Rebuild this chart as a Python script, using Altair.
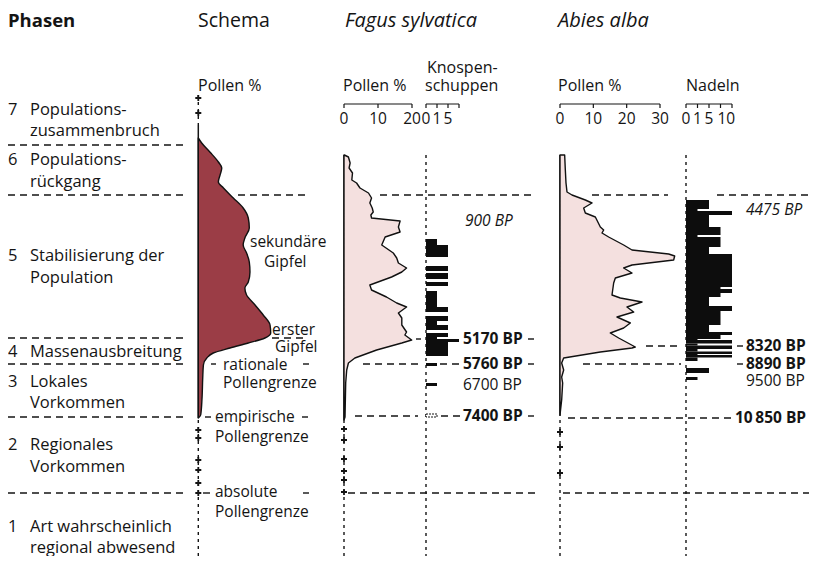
import altair as alt
import pandas as pd

# ---------------------------------------------------------------- values
# vertical position = relative depth in the profile (top = young, bottom = old)
PHASE_NUMBERS = ["7", "6", "5", "4", "3", "2", "1"]
PHASE_LINES = [["Populations-", "zusammenbruch"], ["Populations-", "rückgang"],
               ["Stabilisierung der", "Population"], ["Massenausbreitung"],
               ["Lokales", "Vorkommen"], ["Regionales", "Vorkommen"],
               ["Art wahrscheinlich", "regional abwesend"]]
PHASE_BOUNDARIES = [145, 195, 338, 364, 417, 493]

SCHEMA_DEPTH = [138, 143, 152, 162, 168, 175, 182, 188, 198, 208, 218, 228, 238, 245,
                253, 262, 272, 282, 288, 295, 305, 315, 325, 333, 338, 343, 348, 353,
                358, 365, 378, 398, 415, 418]
SCHEMA_POLLEN = [0, 1.0, 3.4, 5.9, 6.9, 6.4, 5.9, 7.4, 10.3, 13.2, 14.7, 15.0, 13.7, 13.2,
                 14.2, 15.0, 15.2, 14.7, 13.7, 14.2, 16.7, 19.1, 21.1, 21.3, 19.6, 14.7, 9.3, 4.4,
                 2.5, 1.5, 1.3, 1.1, 0.7, 0]
SCHEMA_PLUS_DEPTH = [98, 113, 430, 438, 460, 470, 483, 493]
SCHEMA_NOTES = ["sekundäre", "Gipfel", "erster", "Gipfel", "rationale", "Pollengrenze",
                "empirische", "Pollengrenze", "absolute", "Pollengrenze"]

FAGUS_DEPTH = [155, 157, 163, 168, 173, 180, 183, 188, 193, 198, 203, 208, 212, 215, 218,
               221, 227, 232, 237, 245, 253, 258, 263, 268, 272, 277, 285, 290, 297, 303,
               307, 313, 318, 325, 332, 335, 340, 343, 350, 358, 363, 370, 383, 417, 420]
FAGUS_POLLEN = [0.1, 1.3, 1.8, 1.5, 2.5, 2.3, 3.7, 4.7, 7.2, 8.1, 7.6, 8.3, 8.6, 7.9, 8.1,
                16.5, 16.0, 16.5, 12.1, 11.1, 14.5, 15.5, 16.0, 18.4, 17.0, 14.0, 7.6, 8.1, 12.5, 15.5,
                18.4, 16.0, 17.0, 17.0, 18.4, 17.9, 19.9, 17.0, 9.6, 3.2, 1.3, 0.8, 0.5, 0.3, 0]
FAGUS_PLUS_DEPTH = [429, 440, 459, 471, 480, 492]
KNOSPEN_TOP = [239, 245, 266, 273, 282, 291, 307, 316, 321, 325, 333, 337, 339, 342, 363, 383]
KNOSPEN_BOTTOM = [245, 257, 271, 279, 286, 307, 312, 321, 325, 330, 337, 339, 342, 356, 366, 386]
KNOSPEN_COUNT = [1, 5, 5, 5, 5, 1, 5, 5, 1, 5, 5, 1, 10, 5, 1, 1]
KNOSPEN_UNCERTAIN = (414, 417, 1)
FAGUS_BOUNDARIES = [195, 339, 364, 416, 493]
FAGUS_DATES = ["900 BP", "5170 BP", "5760 BP", "6700 BP", "7400 BP"]
FAGUS_DATE_DEPTH = [221, 339, 364, 385, 416]
FAGUS_DATE_KIND = ["italic", "bold", "bold", "normal", "bold"]

ABIES_DEPTH = [155, 170, 183, 192, 195, 200, 203, 208, 213, 217, 227, 230, 233, 237, 245,
               250, 254, 256, 260, 265, 268, 273, 278, 283, 295, 298, 302, 307, 312, 317,
               323, 328, 333, 338, 347, 348, 352, 358, 363, 370, 377, 383, 400, 415]
ABIES_POLLEN = [1.4, 1.6, 1.8, 2.1, 3.6, 7.6, 9.6, 7.1, 7.6, 10.6, 12.1, 13.1, 12.6, 14.6, 19.1,
                21.6, 32.6, 34.4, 34.1, 21.6, 19.1, 21.6, 16.6, 16.1, 15.6, 18.1, 24.6, 20.1, 22.1, 17.1,
                21.1, 19.1, 15.1, 17.6, 22.6, 21.6, 12.1, 1.1, 0.5, 1.1, 0.5, 0.8, 0.5, 0]
ABIES_PLUS_DEPTH = [432, 447, 473]
NADELN_TOP = [200, 209, 211, 215, 227, 235, 237, 247, 254, 287, 289, 293, 297, 306, 311, 315,
              325, 332, 335, 339, 340, 343.5, 345.5, 349, 351.5, 354, 355, 357.5, 368, 377]
NADELN_BOTTOM = [209, 211, 215, 227, 235, 237, 247, 254, 287, 289, 293, 297, 306, 311, 315, 325,
                 332, 335, 339, 340, 343.5, 345.5, 349, 351.5, 354, 355, 357.5, 361, 373, 380]
NADELN_COUNT = [5, 1, 15, 5, 10, 1, 10, 5, 15, 10, 15, 10, 5, 15, 10, 10,
                5, 15, 10, 1, 15, 1, 15, 1, 15, 1, 15, 1, 5, 1]
ABIES_BOUNDARIES = [195, 346, 364, 418, 493]
ABIES_DATES = ["4475 BP", "8320 BP", "8890 BP", "9500 BP", "10\u2009850 BP"]
ABIES_DATE_DEPTH = [210, 346, 364, 381, 418]
ABIES_DATE_KIND = ["italic", "bold", "bold", "normal", "bold"]

FAGUS_TICKS = [0, 10, 20]
KNOSPEN_TICKS = [0, 1, 5, 10]
KNOSPEN_LABELS = ["0", "1", "5"]
ABIES_TICKS = [0, 10, 20, 30]
NADELN_TICKS = [0, 1, 5, 10, 15]
NADELN_LABELS = ["0", "1", "5", "10"]

# ---------------------------------------------------------------- layout
OFF = 8
W, H = 801, 548
FONT = "Open Sans"
INK = "#141414"


def xs(domain, pixels):
    return alt.Scale(domain=domain, range=[p - OFF for p in pixels], zero=False, nice=False)


YS = alt.Scale(domain=[OFF, OFF + H], range=[0, H], zero=False, nice=False)
LAYOUT = xs([OFF, OFF + W], [OFF, OFF + W])
SCHEMA = xs([0, 20], [198.3, 266.3])
FAGUS = xs([0, 20], [344, 412])
KNOSPEN = xs(KNOSPEN_TICKS, [426, 437, 448, 459])
ABIES = xs([0, 30], [560, 660])
NADELN = xs(NADELN_TICKS, [686, 697.5, 709, 720.5, 732])

AXIS_Y, TICK_Y2, TICKLABEL_Y = 104, 108, 119

layers = []


def X(field, scale):
    return alt.X(f"{field}:Q", scale=scale, axis=None)


def Y(field="y"):
    return alt.Y(f"{field}:Q", scale=YS, axis=None)


def text_layer(rows, scale=LAYOUT, **mk):
    df = pd.DataFrame(rows, columns=["t", "x", "y"])
    base = dict(font=FONT, fontSize=16, color=INK, align="left", baseline="middle")
    base.update(mk)
    return alt.Chart(df).mark_text(**base).encode(x=X("x", scale), y=Y(), text="t:N")


# dashed phase boundaries -------------------------------------------------
LEFT_SEG = (8, 185)
SCHEMA_SEG = [[], [(238, 307)], [(272, 305)], [(211, 216), (303, 309)],
              [(205, 211), (302, 308)], [(203, 210), (303, 309)]]
FAGUS_SEG = [[(380, 532)], [(416, 421), (528, 534)], [(363, 420), (440, 460), (528, 534)],
             [(355, 418), (441, 460), (528, 534)], [(348, 537)]]
ABIES_SEG = [[(592, 668), (717, 815)], [(646, 678), (737, 743), (809, 816)],
             [(583, 681), (737, 743), (809, 816)], [(568, 731), (809, 816)], [(563, 817)]]
seg = []
for i, b in enumerate(PHASE_BOUNDARIES):
    seg.append((b, *LEFT_SEG))
    for a, c in SCHEMA_SEG[i]:
        seg.append((b, a, c))
for b, segs in zip(FAGUS_BOUNDARIES, FAGUS_SEG):
    for a, c in segs:
        seg.append((b, a, c))
for b, segs in zip(ABIES_BOUNDARIES, ABIES_SEG):
    for a, c in segs:
        seg.append((b, a, c))
seg_df = pd.DataFrame(seg, columns=["y", "x1", "x2"])
layers.append(alt.Chart(seg_df).mark_rule(color=INK, strokeWidth=1.4, strokeDash=[7, 5]).encode(
    x=X("x1", LAYOUT), x2="x2:Q", y=Y()))

# vertical baselines (solid where the taxon is present, dotted elsewhere) ----
def vline(scale, spans, dotted):
    df = pd.DataFrame([(0, a, b) for a, b in spans], columns=["x", "y", "y2"])
    kw = dict(color=INK, strokeWidth=1.5)
    if dotted:
        kw.update(strokeDash=[3, 4], strokeWidth=1.4)
    return alt.Chart(df).mark_rule(**kw).encode(x=X("x", scale), y=Y(), y2="y2:Q")


layers += [vline(SCHEMA, [(95, 125), (420, 562)], True), vline(SCHEMA, [(125, 418)], False),
           vline(FAGUS, [(420, 562)], True), vline(FAGUS, [(155, 420)], False),
           vline(KNOSPEN, [(155, 562)], True),
           vline(ABIES, [(420, 562)], True), vline(ABIES, [(155, 416)], False),
           vline(NADELN, [(155, 562)], True)]

# pollen curves --------------------------------------------------------------
def curve(depth, vals, scale, fill, interp):
    df = pd.DataFrame({"y": depth, "v": vals, "base": 0})
    return alt.Chart(df).mark_area(orient="horizontal", interpolate=interp, fill=fill,
                                   stroke="#111", strokeWidth=1.4, strokeJoin="round").encode(
        x=alt.X("v:Q", scale=scale, axis=None, stack=None), x2="base:Q", y=Y())


layers.append(curve(SCHEMA_DEPTH, SCHEMA_POLLEN, SCHEMA, "#9b3d46", "monotone"))
layers.append(curve(FAGUS_DEPTH, FAGUS_POLLEN, FAGUS, "#f4e0df", "linear"))
layers.append(curve(ABIES_DEPTH, ABIES_POLLEN, ABIES, "#f4e0df", "linear"))

# macrofossil bars -----------------------------------------------------------
kn = pd.DataFrame({"y": KNOSPEN_TOP, "y2": KNOSPEN_BOTTOM, "n": KNOSPEN_COUNT, "z": 0})
layers.append(alt.Chart(kn).mark_rect(color="#0d0d0d").encode(
    x=X("z", KNOSPEN), x2="n:Q", y=Y(), y2="y2:Q"))
unc = pd.DataFrame([{"y": KNOSPEN_UNCERTAIN[0], "y2": KNOSPEN_UNCERTAIN[1], "n": KNOSPEN_UNCERTAIN[2], "z": 0}])
layers.append(alt.Chart(unc).mark_rect(fill="white", stroke=INK, strokeWidth=1, strokeDash=[2, 1]).encode(
    x=X("z", KNOSPEN), x2="n:Q", y=Y(), y2="y2:Q"))
nd = pd.DataFrame({"y": NADELN_TOP, "y2": NADELN_BOTTOM, "n": NADELN_COUNT, "z": 0})
layers.append(alt.Chart(nd).mark_rect(color="#0d0d0d").encode(
    x=X("z", NADELN), x2="n:Q", y=Y(), y2="y2:Q"))

# sporadic finds (+) ---------------------------------------------------------
PLUS = "M-1,0L1,0M0,-1L0,1"
for scale, depths in [(SCHEMA, SCHEMA_PLUS_DEPTH), (FAGUS, FAGUS_PLUS_DEPTH), (ABIES, ABIES_PLUS_DEPTH)]:
    df = pd.DataFrame({"x": 0, "y": depths})
    layers.append(alt.Chart(df).mark_point(shape=PLUS, size=36, filled=False, color=INK, strokeWidth=1.8,
                                           opacity=1).encode(x=X("x", scale), y=Y()))

# top axes -------------------------------------------------------------------
for scale, ticks, labels in [(FAGUS, FAGUS_TICKS, [str(t) for t in FAGUS_TICKS]),
                             (KNOSPEN, KNOSPEN_TICKS, KNOSPEN_LABELS),
                             (ABIES, ABIES_TICKS, [str(t) for t in ABIES_TICKS]),
                             (NADELN, NADELN_TICKS, NADELN_LABELS)]:
    dom = pd.DataFrame([{"x": ticks[0], "x2": ticks[-1], "y": AXIS_Y}])
    layers.append(alt.Chart(dom).mark_rule(color=INK, strokeWidth=1.2).encode(
        x=X("x", scale), x2="x2:Q", y=Y()))
    tk = pd.DataFrame({"x": ticks, "y": AXIS_Y, "y2": TICK_Y2})
    layers.append(alt.Chart(tk).mark_rule(color=INK, strokeWidth=1.2).encode(
        x=X("x", scale), y=Y(), y2="y2:Q"))
    lab = pd.DataFrame({"x": ticks[:len(labels)], "y": TICKLABEL_Y, "t": labels})
    if labels == NADELN_LABELS:
        lab.loc[lab.t == "10", "x"] = 12.5
    layers.append(alt.Chart(lab).mark_text(font=FONT, fontSize=15.5, color=INK, align="center",
                                           baseline="middle").encode(x=X("x", scale), y=Y(), text="t:N"))

# headers --------------------------------------------------------------------
layers.append(text_layer([("Phasen", 8, 21)], fontSize=18.5, fontWeight="bold"))
layers.append(text_layer([("Schema", 198, 21)], fontSize=19.5))
layers.append(text_layer([("Fagus sylvatica", 345, 21), ("Abies alba", 558, 21)], fontSize=20,
                         fontStyle="italic"))
layers.append(text_layer([("Pollen %", 198, 86), ("Pollen %", 343, 86), ("Knospen-", 427, 68),
                          ("schuppen", 425, 86), ("Pollen %", 558, 86), ("Nadeln", 686, 86)],
                         fontSize=16))

# phase labels -----------------------------------------------------------------
PHASE_LABEL_Y = [[110, 131], [160, 182], [256, 278], [352], [382, 403], [445, 467], [527, 548]]
rows = []
for num, lines, ys in zip(PHASE_NUMBERS, PHASE_LINES, PHASE_LABEL_Y):
    rows.append((num, 8, ys[0]))
    for ln, yy in zip(lines, ys):
        rows.append((ln, 30, yy))
layers.append(text_layer(rows, fontSize=16.5))

# schema annotations -------------------------------------------------------------
NOTE_POS = [(250, 242), (264, 262), (272, 330), (275, 347), (223, 365), (223, 383),
            (215, 417), (215, 437), (215, 492), (215, 512)]
layers.append(text_layer([(t, x, y) for t, (x, y) in zip(SCHEMA_NOTES, NOTE_POS)], fontSize=15.5))

# dates ----------------------------------------------------------------------
for dates, depths, kinds, xpos in [(FAGUS_DATES, FAGUS_DATE_DEPTH, FAGUS_DATE_KIND, [465, 463, 463, 463, 463]),
                                   (ABIES_DATES, ABIES_DATE_DEPTH, ABIES_DATE_KIND, [746, 746, 746, 746, 735])]:
    for kind in ["italic", "bold", "normal"]:
        rows = [(d, x, y) for d, y, k, x in zip(dates, depths, kinds, xpos) if k == kind]
        kw = {"italic": dict(fontStyle="italic"), "bold": dict(fontWeight="bold"),
              "normal": {}}[kind]
        layers.append(text_layer(rows, fontSize=15.5, **kw))

chart = alt.layer(*layers).resolve_scale(x="independent").properties(
    width=W, height=H, padding=0, autosize="none", background="white"
).configure_view(stroke=None)

chart.save("out.html", embed_options={"renderer": "svg", "actions": False})
